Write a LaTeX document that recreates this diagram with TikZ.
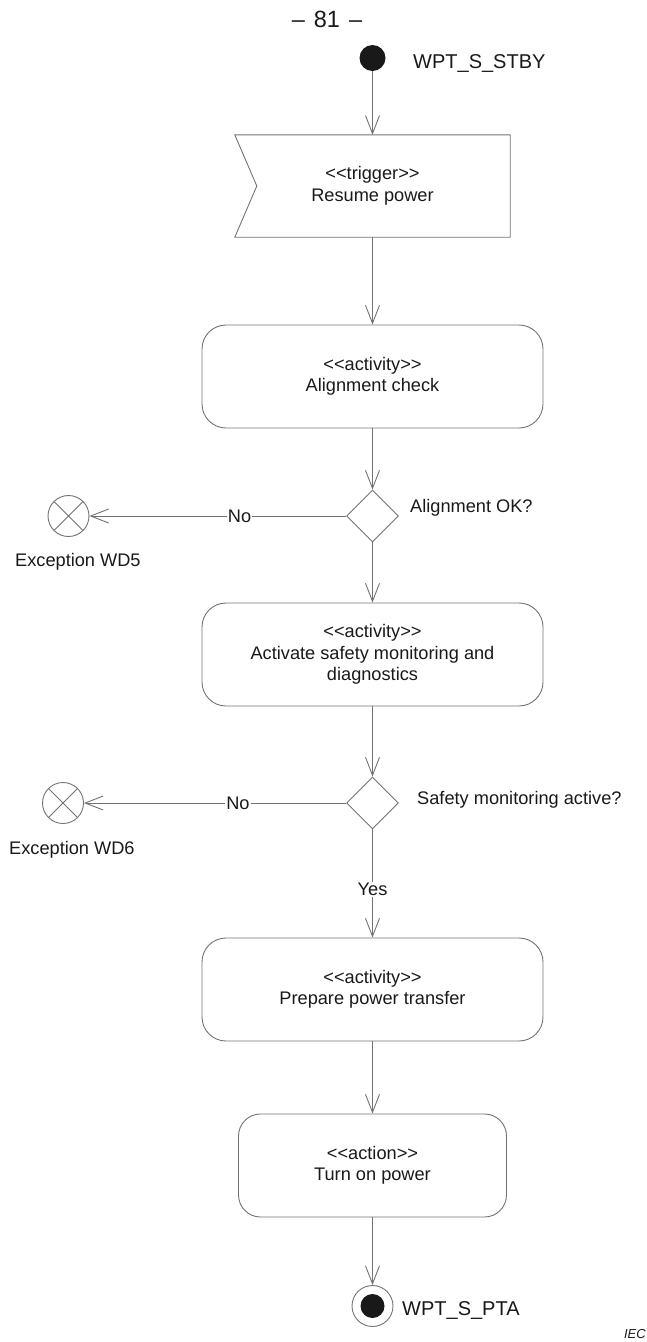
\documentclass[tikz,border=0pt]{standalone}
\usepackage{fontspec}
\setmainfont{Liberation Sans}
\usetikzlibrary{arrows.meta,shapes.geometric}
\definecolor{linegray}{gray}{0.45}
\definecolor{inkdark}{gray}{0.1}
\begin{document}
\begin{tikzpicture}[x=1pt,y=-1pt,
  every node/.style={font=\fontsize{18.2}{21.5}\selectfont, text=inkdark},
  statefont/.style={font=\fontsize{20}{24}\selectfont},
  flow/.style={draw=linegray, line width=0.9pt,
    -{Straight Barb[length=18pt,width=14pt,line width=0.9pt]}},
  outline/.style={draw=linegray, line width=0.9pt},
  initialnode/.style={circle, fill=inkdark, minimum size=26pt, inner sep=0pt},
  finalnode/.style={circle, draw=linegray, line width=0.9pt, minimum size=41pt, inner sep=0pt,
    path picture={\fill[inkdark] (path picture bounding box.center) circle (12pt);}},
  trigbox/.style={minimum width=275pt, minimum height=102pt, align=center, inner sep=0pt},
  actbox/.style={outline, rounded corners=24pt, minimum width=341pt, minimum height=103pt,
    align=center, inner sep=0pt},
  decision/.style={diamond, outline, minimum width=52pt, minimum height=52pt, inner sep=0pt},
  exception/.style={circle, outline, minimum size=41pt, inner sep=0pt,
    path picture={\draw[linegray, line width=0.9pt]
      (path picture bounding box.north west) -- (path picture bounding box.south east)
      (path picture bounding box.north east) -- (path picture bounding box.south west);}},
  lbl/.style={fill=white, inner sep=1pt}
]
\useasboundingbox (0,0) rectangle (647,1342);

% page number
\node[font=\fontsize{23.5}{28}\selectfont, anchor=base] (pageno) at (327,27)
  {–\hspace{9pt}81\hspace{9pt}–};

% initial state
\node[initialnode] (start) at (372.5,58) {};
\node[statefont, anchor=base west, inner sep=0pt] (startlbl) at (413,68) {WPT\_S\_STBY};

% trigger (signal receipt)
\node[trigbox] (trig) at (372.5,186) {<{}<trigger>{}>\\Resume power};
\draw[outline] (trig.north west) -- (trig.north east) -- (trig.south east)
  -- (trig.south west) -- ([xshift=22pt]trig.west) -- cycle;

% activities
\node[actbox] (check) at (372.5,376.5) {<{}<activity>{}>\\Alignment check};
\node[decision] (okq) at (372.5,516) {};
\node[anchor=base west, inner sep=0pt] (okqlbl) at (410,512) {Alignment OK?};
\node[exception] (wd5) at (68.5,516) {};
\node[anchor=base west, inner sep=0pt] (wd5lbl) at (15,566) {Exception WD5};

\node[actbox] (safety) at (372.5,654.5)
  {<{}<activity>{}>\\Activate safety monitoring and\\diagnostics};
\node[decision] (safeq) at (372.5,803) {};
\node[anchor=base west, inner sep=0pt] (safeqlbl) at (417,804) {Safety monitoring active?};
\node[exception] (wd6) at (63,803) {};
\node[anchor=base west, inner sep=0pt] (wd6lbl) at (9,854) {Exception WD6};

\node[actbox] (prep) at (372.5,989.5) {<{}<activity>{}>\\Prepare power transfer};
\node[actbox, minimum width=268pt, rounded corners=22pt] (turnon) at (372.5,1165.5)
  {<{}<action>{}>\\Turn on power};

% final state
\node[finalnode] (final) at (372.5,1306) {};
\node[statefont, anchor=base west, inner sep=0pt] (finallbl) at (402,1315) {WPT\_S\_PTA};

\node[font=\fontsize{13}{15}\selectfont\itshape, anchor=base east, inner sep=0pt] (iec)
  at (646,1338) {IEC};

% control flow
\draw[flow] (start) -- (trig.north);
\draw[flow] (trig.south) -- (check.north);
\draw[flow] (check.south) -- (okq.north);
\draw[flow] (okq.west) -- node[lbl, pos=0.415] {No} (wd5.east);
\draw[flow] (okq.south) -- (safety.north);
\draw[flow] (safety.south) -- (safeq.north);
\draw[flow] (safeq.west) -- node[lbl, pos=0.4125] {No} (wd6.east);
\draw[flow] (safeq.south) -- node[lbl, pos=0.555] {Yes} (prep.north);
\draw[flow] (prep.south) -- (turnon.north);
\draw[flow] (turnon.south) -- (final.north);
\end{tikzpicture}
\end{document}
